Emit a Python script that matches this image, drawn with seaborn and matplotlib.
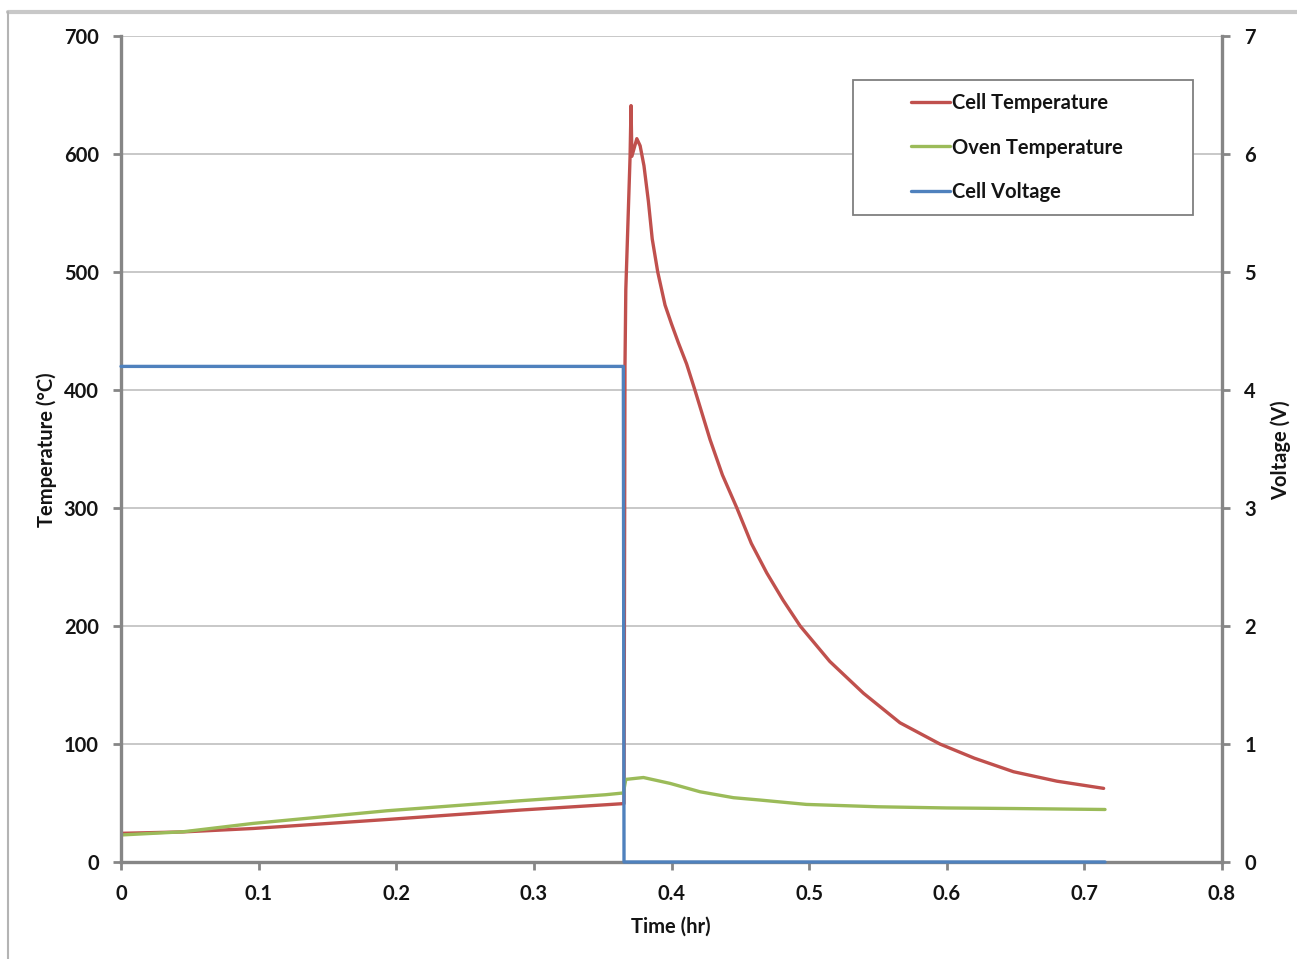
import matplotlib
matplotlib.use("Agg")
import matplotlib.pyplot as plt
from matplotlib.lines import Line2D
from matplotlib.patches import Rectangle
import pandas as pd
import seaborn as sns

# ── Data ─────────────────────────────────────────────────────────────────────
cell_t = [0.0, 0.045, 0.096, 0.193, 0.29, 0.352, 0.3655, 0.3662, 0.3668,
          0.3699, 0.3706, 0.3712, 0.3748, 0.3772, 0.380, 0.3832, 0.386,
          0.390, 0.3953, 0.400, 0.405, 0.411, 0.417, 0.428, 0.437, 0.4475,
          0.458, 0.4692, 0.481, 0.4935, 0.515, 0.5395, 0.566, 0.595, 0.62,
          0.6485, 0.68, 0.714]
cell_temp = [24.3, 25.5, 28.4, 36.0, 44.0, 48.5, 49.5, 420.0, 485.0,
             598.0, 641.0, 598.0, 613.0, 607.0, 590.0, 560.0, 528.0,
             500.0, 472.0, 456.0, 440.0, 422.0, 400.0, 358.0, 328.0, 300.0,
             270.0, 245.0, 222.0, 200.0, 170.0, 143.0, 118.0, 100.0, 88.0,
             76.5, 68.5, 62.4]

oven_t = [0.0, 0.045, 0.096, 0.193, 0.29, 0.352, 0.365, 0.3668, 0.3796,
          0.399, 0.4208, 0.445, 0.4644, 0.498, 0.55, 0.6, 0.65, 0.715]
oven_temp = [22.9, 25.6, 32.7, 43.4, 51.9, 57.0, 58.5, 70.0, 71.6,
             66.6, 59.5, 54.5, 52.5, 48.8, 46.8, 45.8, 45.3, 44.5]

volt_t = [0.0, 0.365, 0.3655, 0.715]
volt_v = [4.2, 4.2, 0.0, 0.0]

x_ticks = [0, 0.1, 0.2, 0.3, 0.4, 0.5, 0.6, 0.7, 0.8]
x_labels = ["0", "0.1", "0.2", "0.3", "0.4", "0.5", "0.6", "0.7", "0.8"]
temp_ticks = [0, 100, 200, 300, 400, 500, 600, 700]
volt_ticks = [0, 1, 2, 3, 4, 5, 6, 7]

RED, GREEN, BLUE = "#c0504d", "#9bbb59", "#4f81bd"
SPINE = "#868686"
TXT = "#141414"

sns.set_style("white")
plt.rcParams["font.family"] = ["Lato", "DejaVu Sans"]
plt.rcParams["font.weight"] = "bold"
FS = 14.5

cell = pd.DataFrame({"t": cell_t, "v": cell_temp})
oven = pd.DataFrame({"t": oven_t, "v": oven_temp})
volt = pd.DataFrame({"t": volt_t, "v": volt_v})

fig = plt.figure(figsize=(12.97, 9.59), dpi=100)
ax = fig.add_axes([121 / 1297, 1 - 862 / 959, 1101 / 1297, 826 / 959])
ax2 = ax.twinx()

line_kw = dict(x="t", y="v", sort=False, estimator=None, linewidth=2.4)
sns.lineplot(data=cell, ax=ax, color=RED, **line_kw)
sns.lineplot(data=oven, ax=ax, color=GREEN, **line_kw)
sns.lineplot(data=volt, ax=ax2, color=BLUE, **line_kw)
for ln in ax2.get_lines():
    ln.set_zorder(3)
    ln.set_clip_on(False)

ax.set_xlim(0, 0.8)
ax.set_ylim(0, 700)
ax2.set_ylim(0, 7)
ax.set_xticks(x_ticks)
ax.set_xticklabels(x_labels)
ax.set_yticks(temp_ticks)
ax2.set_yticks(volt_ticks)

ax.yaxis.grid(True, color="#c4c4c4", linewidth=1.3)
ax.xaxis.grid(False)
ax2.grid(False)
ax.set_axisbelow(True)

for a in (ax, ax2):
    for s in a.spines.values():
        s.set_visible(False)
ax.spines["left"].set_visible(True)
ax.spines["bottom"].set_visible(True)
ax2.spines["right"].set_visible(True)
for s in (ax.spines["left"], ax.spines["bottom"], ax2.spines["right"]):
    s.set_color(SPINE)
    s.set_linewidth(2.4)
    s.set_zorder(2)

tick_kw = dict(direction="out", length=6, width=2, color=SPINE,
               labelsize=FS, labelcolor=TXT)
ax.tick_params(axis="x", bottom=True, pad=10, **tick_kw)
ax.tick_params(axis="y", left=True, pad=10, **tick_kw)
ax2.tick_params(axis="y", right=True, pad=10, **tick_kw)
for lab in ax.get_xticklabels() + ax.get_yticklabels() + ax2.get_yticklabels():
    lab.set_fontweight("bold")

ax.set_xlabel("Time (hr)", fontsize=FS, fontweight="bold", color=TXT)
ax.set_ylabel("Temperature (°C)", fontsize=FS, fontweight="bold", color=TXT)
ax2.set_ylabel("Voltage (V)", fontsize=FS, fontweight="bold", color=TXT)
ax.xaxis.set_label_coords(0.4995, -0.0666)
ax.yaxis.set_label_coords(-0.058, 0.499)
ax2.yaxis.set_label_coords(1.0445, 0.499)

# legend box
bx0, by0 = (853 - 121) / 1101, (862 - 215) / 826
bw, bh = (1193 - 853) / 1101, (215 - 80) / 826
ax2.add_patch(Rectangle((bx0, by0), bw, bh, transform=ax2.transAxes,
                        facecolor="white", edgecolor="#7f7f7f", linewidth=1.3,
                        zorder=4))
handles = [Line2D([], [], color=RED, linewidth=2.4),
           Line2D([], [], color=GREEN, linewidth=2.4),
           Line2D([], [], color=BLUE, linewidth=2.4)]
labels = ["Cell Temperature", "Oven Temperature", "Cell Voltage"]
leg = ax2.legend(handles, labels, loc="center left",
                 bbox_to_anchor=((911 - 121) / 1101, by0, bw, bh),
                 frameon=False, fontsize=FS, handlelength=1.95,
                 handletextpad=0.1, labelspacing=1.22, borderpad=0,
                 borderaxespad=0)
leg.set_zorder(5)
for txt in leg.get_texts():
    txt.set_fontweight("bold")
    txt.set_color(TXT)

# outer chart frame (top and left edges visible in the crop)
fig.add_artist(Line2D([8 / 1297, 1.0], [1 - 12 / 959, 1 - 12 / 959],
                      transform=fig.transFigure, color="#c8c8c8", linewidth=3))
fig.add_artist(Line2D([8 / 1297, 8 / 1297], [0, 1 - 12 / 959],
                      transform=fig.transFigure, color="#b4b4b4", linewidth=1.5))

fig.savefig("out.png", dpi=100, facecolor="white")
